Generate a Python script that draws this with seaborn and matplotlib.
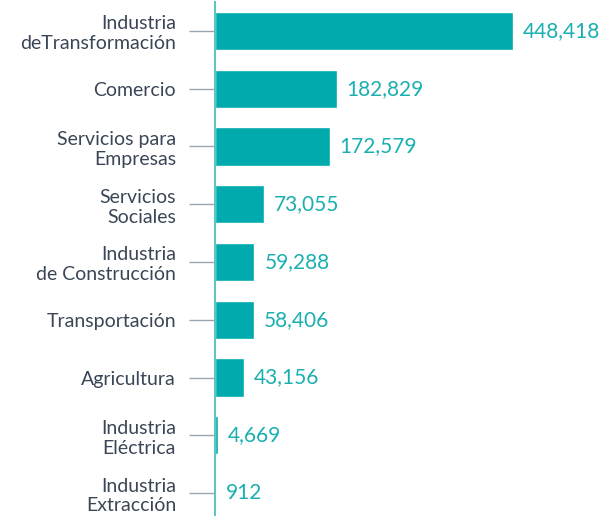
import pandas as pd
import matplotlib.pyplot as plt
import seaborn as sns

# Data
sectores = ["Industria\ndeTransformación", "Comercio", "Servicios para\nEmpresas",
            "Servicios\nSociales", "Industria\nde Construcción", "Transportación",
            "Agricultura", "Industria\nEléctrica", "Industria\nExtracción"]
empleos = [448418, 182829, 172579, 73055, 59288, 58406, 43156, 4669, 912]

df = pd.DataFrame({"sector": sectores, "empleos": empleos})

sns.set_style("white")
plt.rcParams['font.family'] = ['Lato', 'DejaVu Sans']

fig = plt.figure(figsize=(6.03, 5.16), dpi=100)
ax = fig.add_axes([215 / 603, -6 / 516, 388 / 603, 520 / 516])

sns.barplot(data=df, x="empleos", y="sector", orient="h", color="#00AAAD",
            saturation=1, width=0.66, ax=ax)

ax.set_xlim(0, 448418 * 388 / 298)
ax.set_xlabel("")
ax.set_ylabel("")
ax.set_xticks([])

for i, v in enumerate(empleos):
    ax.text(v + 448418 * 10 / 298, i, f"{v:,}", va="center", ha="left",
            fontsize=15, color="#1AAFB0")

for s in ["top", "right", "bottom"]:
    ax.spines[s].set_visible(False)
ax.spines["left"].set_color("#5CC4C4")
ax.spines["left"].set_linewidth(1.5)
ax.tick_params(axis="y", length=19, width=1, color="#9AA5B1", pad=9,
               labelsize=14, labelcolor="#3A4656", left=True)
for lbl in ax.get_yticklabels():
    lbl.set_horizontalalignment("right")
    lbl.set_multialignment("right")
    lbl.set_linespacing(1.2)

fig.savefig("out.png", dpi=100)
